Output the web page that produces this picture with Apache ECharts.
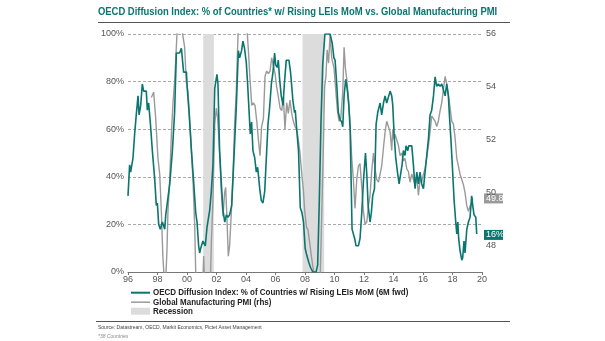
<!DOCTYPE html>
<html><head><meta charset="utf-8">
<script src="https://cdn.jsdelivr.net/npm/echarts@6/dist/echarts.min.js"></script>
<style>html,body{margin:0;padding:0;background:#fff}#c{width:605px;height:341px}</style>
</head><body><div id="c"></div>
<script>
const titleText = 'OECD Diffusion Index: % of Countries* w/ Rising LEIs MoM vs. Global Manufacturing PMI';
const legendNames = ['OECD Diffusion Index: % of Countries w/ Rising LEIs MoM (6M fwd)', 'Global Manufacturing PMI (rhs)', 'Recession'];
const sourceText = 'Source: Datastream, OECD, Markit Economics, Pictet Asset Management';
const noteText = '*38 Countries';
const recessions = [[2001.1, 2001.82], [2007.83, 2009.3]];

// OECD diffusion index, % (year, value)
const diffusion = [
[1996.0,32],[1996.11,45],[1996.18,42],[1996.34,48],[1996.45,58],[1996.56,66],[1996.68,74],[1996.75,66],[1996.86,70],[1996.97,79],
[1997.06,76],[1997.24,76],[1997.31,68],[1997.4,71],[1997.51,63],[1997.65,51],[1997.81,39],[1997.92,28],[1997.99,29],[1998.08,20],
[1998.19,18],[1998.33,21],[1998.49,18],[1998.56,24],[1998.67,24],[1998.83,37],[1999.01,51],[1999.16,67],[1999.28,92],[1999.5,92],
[1999.62,94],[1999.77,84],[1999.96,84],[2000.02,77],[2000.14,67],[2000.3,51],[2000.45,38],[2000.59,25],[2000.68,21],[2000.79,11],
[2000.86,8],[2000.93,10],[2001.08,13],[2001.2,13],[2001.24,11],[2001.36,19],[2001.54,26],[2001.65,34],[2001.76,45],[2001.88,77],
[2002.03,83],[2002.1,79],[2002.21,51],[2002.33,37],[2002.44,26],[2002.56,21],[2002.67,24],[2002.78,23],[2002.89,24],[2003.03,28],
[2003.16,45],[2003.34,69],[2003.48,93],[2003.57,90],[2003.7,93],[2003.79,97],[2003.9,94],[2004.02,88],[2004.11,79],[2004.2,79],
[2004.29,58],[2004.38,63],[2004.47,51],[2004.59,48],[2004.7,42],[2004.79,44],[2004.93,35],[2005.04,30],[2005.15,29],[2005.27,34],
[2005.38,48],[2005.49,62],[2005.6,69],[2005.72,79],[2005.83,84],[2005.94,92],[2006.01,87],[2006.12,86],[2006.19,89],[2006.28,81],
[2006.39,74],[2006.51,70],[2006.6,79],[2006.73,89],[2006.91,89],[2007.02,84],[2007.18,72],[2007.29,67],[2007.34,68],[2007.45,59],
[2007.56,51],[2007.68,27],[2007.79,25],[2007.9,21],[2008.01,10],[2008.12,7],[2008.26,4],[2008.37,2],[2008.53,0],[2008.75,0],
[2008.86,3],[2008.97,30],[2009.08,62],[2009.2,87],[2009.35,100],[2009.53,100],[2009.7,100],[2009.85,96],[2009.96,90],[2010.04,89],
[2010.15,79],[2010.26,67],[2010.38,64],[2010.49,63],[2010.56,61],[2010.65,74],[2010.76,81],[2010.88,76],[2010.97,70],[2011.06,60],
[2011.12,41],[2011.19,18],[2011.28,18],[2011.37,14],[2011.46,11],[2011.62,11],[2011.73,14],[2011.85,25],[2011.96,38],[2012.1,50],
[2012.19,41],[2012.28,28],[2012.41,21],[2012.5,25],[2012.59,32],[2012.71,35],[2012.82,62],[2012.93,67],[2013.09,71],[2013.2,66],
[2013.32,71],[2013.43,74],[2013.54,71],[2013.65,71],[2013.77,76],[2013.88,74],[2013.95,70],[2014.04,58],[2014.15,48],[2014.27,42],
[2014.38,37],[2014.47,37],[2014.58,45],[2014.67,51],[2014.78,49],[2014.85,53],[2014.97,51],[2015.03,53],[2015.24,53],[2015.35,45],
[2015.46,35],[2015.58,42],[2015.69,37],[2015.8,42],[2015.91,37],[2016.03,35],[2016.14,42],[2016.25,42],[2016.37,56],[2016.48,66],
[2016.59,68],[2016.71,74],[2016.82,82],[2016.93,78],[2017.04,79],[2017.16,78],[2017.27,79],[2017.38,79],[2017.5,74],[2017.61,79],
[2017.72,74],[2017.79,66],[2017.9,55],[2018.02,41],[2018.11,30],[2018.22,21],[2018.29,16],[2018.36,21],[2018.42,14],[2018.51,9],
[2018.63,5],[2018.69,6],[2018.78,13],[2018.85,8],[2018.97,18],[2019.08,21],[2019.19,23],[2019.3,32],[2019.37,28],[2019.46,24],
[2019.58,23],[2019.64,16]
];

// Global manufacturing PMI (year, value) - right axis
const pmi = [
[1997.58,53.6],[1997.74,53.8],[1997.88,52.8],[1998.03,51.3],[1998.15,50.7],[1998.26,49.3],[1998.37,47.5],[1998.49,46.5],[1998.55,46.6],
[1998.64,47.8],[1998.71,49.3],[1998.82,50.4],[1998.94,52.2],[1999.05,53.4],[1999.16,54.2],[1999.32,56.0],[1999.46,56.8],[1999.62,56.5],
[1999.73,55.9],[1999.84,55.5],[1999.95,54.2],[2000.07,53.8],[2000.18,52.8],[2000.29,51.7],[2000.41,50.4],[2000.52,48.8],[2000.59,47.0],
[2000.75,45.5],[2000.97,45.0],[2001.13,47.6],[2001.2,46.5],[2001.42,45.5],[2001.58,46.5],[2001.65,48.1],[2001.76,49.7],[2001.88,52.6],
[2001.99,53.2],[2002.08,52.8],[2002.21,51.5],[2002.33,50.0],[2002.44,49.1],[2002.55,50.0],[2002.62,50.2],[2002.71,49.0],[2002.8,47.6],
[2002.89,48.0],[2003.01,49.3],[2003.12,50.7],[2003.23,52.6],[2003.34,53.8],[2003.46,56.0],[2003.68,57.0],[2003.91,56.8],[2004.09,56.0],
[2004.16,55.4],[2004.27,54.3],[2004.39,53.3],[2004.5,53.4],[2004.61,53.3],[2004.73,52.7],[2004.84,52.0],[2004.95,51.4],[2005.06,52.5],
[2005.18,52.8],[2005.29,54.4],[2005.4,54.6],[2005.52,54.5],[2005.63,54.6],[2005.74,55.1],[2005.86,54.8],[2005.97,54.5],[2006.08,54.0],
[2006.2,53.6],[2006.31,53.2],[2006.42,53.1],[2006.54,53.6],[2006.64,52.4],[2006.76,53.4],[2006.87,53.0],[2006.98,53.5],[2007.1,53.0],
[2007.21,52.7],[2007.32,52.5],[2007.44,52.4],[2007.55,52.0],[2007.66,51.5],[2007.78,50.7],[2007.89,50.1],[2007.98,49.3],[2008.1,48.7],
[2008.2,48.6],[2008.32,48.1],[2008.43,47.6],[2008.59,47.0],[2008.75,45.5],[2008.95,45.5],[2009.04,47.0],[2009.11,48.6],[2009.22,51.1],
[2009.33,54.0],[2009.42,54.4],[2009.5,55.4],[2009.6,54.9],[2009.7,56.0],[2009.81,55.1],[2009.97,54.7],[2010.11,53.7],[2010.2,53.1],
[2010.31,52.7],[2010.42,52.8],[2010.56,53.8],[2010.65,55.5],[2010.74,54.7],[2010.83,54.3],[2010.94,53.6],[2011.06,52.6],[2011.17,51.3],
[2011.28,50.5],[2011.39,49.4],[2011.51,50.5],[2011.62,51.0],[2011.73,51.1],[2011.85,50.2],[2011.96,49.3],[2012.07,48.8],[2012.19,48.9],
[2012.3,49.5],[2012.41,49.9],[2012.52,50.8],[2012.64,51.5],[2012.75,50.9],[2012.86,50.5],[2012.98,50.4],[2013.09,50.4],[2013.2,51.0],
[2013.32,51.7],[2013.43,52.3],[2013.54,52.7],[2013.65,52.7],[2013.77,52.3],[2013.88,51.6],[2013.95,52.4],[2014.04,52.0],[2014.11,52.2],
[2014.22,52.0],[2014.33,51.8],[2014.45,51.4],[2014.56,51.5],[2014.67,51.2],[2014.78,51.3],[2014.9,50.9],[2015.01,50.8],[2015.12,50.4],
[2015.24,50.7],[2015.35,50.5],[2015.46,50.3],[2015.58,50.6],[2015.69,49.9],[2015.8,50.5],[2015.91,50.4],[2016.03,50.7],[2016.14,50.9],
[2016.25,50.9],[2016.37,51.8],[2016.48,52.3],[2016.59,52.9],[2016.71,52.9],[2016.82,52.7],[2016.93,52.5],[2017.04,52.7],[2017.16,53.1],
[2017.27,53.4],[2017.38,53.9],[2017.5,54.4],[2017.61,54.1],[2017.72,53.7],[2017.84,53.2],[2017.95,52.7],[2018.06,52.6],[2018.17,52.1],
[2018.29,51.3],[2018.4,51.0],[2018.51,50.7],[2018.63,50.5],[2018.74,50.3],[2018.85,50.0],[2018.97,49.5],[2019.08,49.3],[2019.19,49.5],
[2019.3,49.6],[2019.37,49.8]
];

const TEAL = '#0b7570';
const GREY = '#9a9a9a';
const REC = '#dcdcdc';
const FONT = '"Liberation Sans", Arial, sans-serif';

const chart = echarts.init(document.getElementById('c'), null, {renderer: 'canvas'});
const option = {
  animation: false,
  backgroundColor: '#fff',
  textStyle: {fontFamily: FONT},
  grid: {left: 128, right: 123, top: 34, bottom: 69, containLabel: false},
  xAxis: {
    type: 'value', min: 1996, max: 2020, interval: 2,
    axisLine: {show: true, lineStyle: {color: '#777', width: 1}},
    axisTick: {show: true, length: 3, lineStyle: {color: '#777'}},
    splitLine: {show: false},
    axisLabel: {color: '#555', fontSize: 9, margin: 3, formatter: v => String(v).slice(2)}
  },
  yAxis: [
    {type: 'value', min: 0, max: 100, interval: 20, position: 'left',
      axisLine: {show: false}, axisTick: {show: false},
      axisLabel: {color: '#555', fontSize: 9, margin: 4, formatter: '{value}%'},
      splitLine: {show: true, lineStyle: {color: '#aaa', type: [3, 2], width: 1}}},
    {type: 'value', min: 47, max: 56, interval: 1, position: 'right',
      axisLine: {show: false}, axisTick: {show: false}, splitLine: {show: false},
      axisLabel: {color: '#555', fontSize: 9, margin: 4,
        formatter: v => (v % 2 === 0 ? String(v) : '')}}
  ],
  series: [
    {name: legendNames[2], type: 'line', data: [], yAxisIndex: 0, silent: true,
      markArea: {silent: true, itemStyle: {color: REC},
        data: recessions.map(r => [{xAxis: r[0]}, {xAxis: r[1]}])}},
    {name: legendNames[1], type: 'line', yAxisIndex: 1, data: pmi, symbol: 'none', clip: true,
      lineStyle: {color: GREY, width: 1.4}, itemStyle: {color: GREY}, z: 3},
    {name: legendNames[0], type: 'line', yAxisIndex: 0, data: diffusion, symbol: 'none', clip: true,
      lineStyle: {color: TEAL, width: 1.6}, itemStyle: {color: TEAL}, z: 4}
  ]
};
chart.setOption(option);

const tealEnd = diffusion[diffusion.length - 1];
const greyEnd = pmi[pmi.length - 1];
const tealPx = chart.convertToPixel({xAxisIndex: 0, yAxisIndex: 0}, tealEnd);
const greyPx = chart.convertToPixel({xAxisIndex: 0, yAxisIndex: 1}, greyEnd);
const labelX = 484;
const legFont = 'bold 9.5px ' + FONT;
const legY = [292.7, 302.2, 311.2];

chart.setOption({
  graphic: [
    {type: 'text', x: 98, y: 6, scaleX: 0.82, style: {text: titleText, fill: TEAL, font: 'bold 11.5px ' + FONT}},
    {type: 'line', shape: {x1: 98, y1: 22.5, x2: 510, y2: 22.5}, style: {stroke: '#555', lineWidth: 1}},
    // legend
    {type: 'line', shape: {x1: 131, y1: legY[0], x2: 150, y2: legY[0]}, style: {stroke: TEAL, lineWidth: 2}},
    {type: 'line', shape: {x1: 131, y1: legY[1], x2: 150, y2: legY[1]}, style: {stroke: GREY, lineWidth: 1.5}},
    {type: 'rect', shape: {x: 131, y: legY[2] - 3.5, width: 19, height: 7}, style: {fill: REC}},
    {type: 'text', x: 153, y: legY[0], scaleX: 0.84, style: {text: legendNames[0], fill: '#222', font: legFont, verticalAlign: 'middle'}},
    {type: 'text', x: 153, y: legY[1], scaleX: 0.84, style: {text: legendNames[1], fill: '#222', font: legFont, verticalAlign: 'middle'}},
    {type: 'text', x: 153, y: legY[2], scaleX: 0.84, style: {text: legendNames[2], fill: '#222', font: legFont, verticalAlign: 'middle'}},
    {type: 'line', shape: {x1: 96, y1: 321.5, x2: 510, y2: 321.5}, style: {stroke: '#555', lineWidth: 1}},
    {type: 'text', x: 98, y: 325, style: {text: sourceText, fill: '#444', font: '5px ' + FONT}},
    {type: 'text', x: 98, y: 334, style: {text: noteText, fill: '#888', font: 'italic 5px ' + FONT}},
    {type: 'text', x: labelX, y: greyPx[1] + 0.5, style: {text: greyEnd[1].toFixed(1), fill: '#fff', font: '9px ' + FONT,
      backgroundColor: GREY, padding: [1, 2, 0, 2], width: 15, verticalAlign: 'middle'}},
    {type: 'text', x: labelX, y: tealPx[1] + 1, style: {text: Math.round(tealEnd[1]) + '%', fill: '#fff', font: '9px ' + FONT,
      backgroundColor: TEAL, padding: [1, 2, 0, 2], width: 15, verticalAlign: 'middle'}}
  ]
});
</script></body></html>
